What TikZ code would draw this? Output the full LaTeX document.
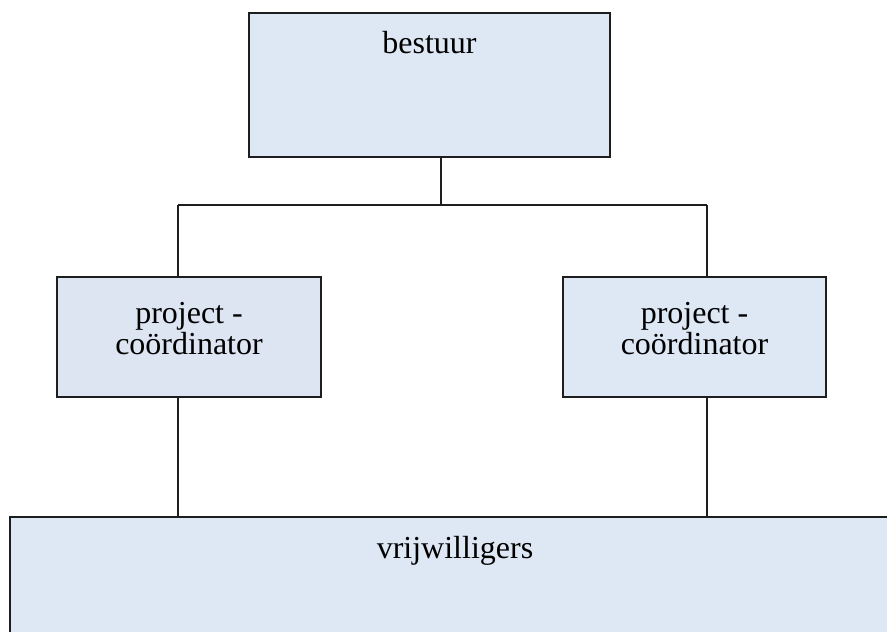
\documentclass[tikz,border=0pt]{standalone}
\usepackage{fontspec}
\setmainfont{Liberation Serif}
\definecolor{boxfill}{RGB}{222,232,245}
\definecolor{boxfillb}{RGB}{220,229,241}
\definecolor{edge}{RGB}{30,30,30}
\begin{document}
\begin{tikzpicture}[x=1pt,y=-1pt,
  orgbox/.style={draw=edge,line width=1.3pt,fill=boxfill,rectangle,inner sep=0pt,outer sep=0pt,anchor=north west},
  lbl/.style={anchor=base,inner sep=0pt,font=\fontsize{32}{32}\selectfont,text=black},
  conn/.style={draw=edge,line width=1.3pt}]
\useasboundingbox (0,0) rectangle (887,632);
\begin{scope}
\clip (0,0) rectangle (887,632);
\node[orgbox,minimum width=361pt,minimum height=144pt] (bestuur) at (249,13) {};
\node[orgbox,fill=boxfillb,minimum width=264pt,minimum height=120pt] (pl) at (57,277) {};
\node[orgbox,minimum width=263pt,minimum height=120pt] (pr) at (563,277) {};
\node[orgbox,minimum width=890pt,minimum height=160pt] (vw) at (10,517) {};
\end{scope}
\node[lbl] (tb) at (429.5,53) {bestuur};
\node[lbl] (tl1) at (189,323) {project -};
\node[lbl] (tl2) at (189,354) {coördinator};
\node[lbl] (tr1) at (694.5,323) {project -};
\node[lbl] (tr2) at (694.5,354) {coördinator};
\node[lbl] (tv) at (455,558) {vrijwilligers};
\coordinate (jt) at (441,205);
\coordinate (jl) at (178,205);
\coordinate (jr) at (707,205);
\draw[conn] (bestuur.south -| jt) -- (jt);
\draw[conn] (jl) -- (jr);
\draw[conn] (jl) -- (pl.north -| jl);
\draw[conn] (jr) -- (pr.north -| jr);
\draw[conn] (pl.south -| jl) -- (vw.north -| jl);
\draw[conn] (pr.south -| jr) -- (vw.north -| jr);
\end{tikzpicture}
\end{document}
